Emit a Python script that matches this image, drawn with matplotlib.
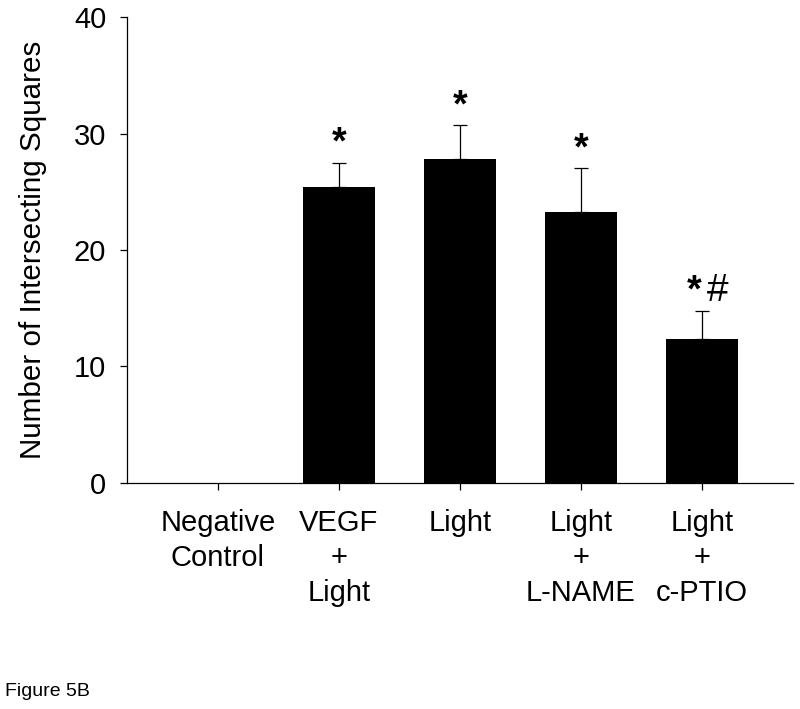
import matplotlib
matplotlib.use("Agg")
import matplotlib.pyplot as plt
import numpy as np

# values
groups = ["Negative\nControl", "VEGF\n+\nLight", "Light", "Light\n+\nL-NAME", "Light\n+\nc-PTIO"]
means = [0.0, 25.4, 27.8, 23.3, 12.4]
sems = [0.0, 2.1, 2.9, 3.7, 2.4]
marks = ["", "*", "*", "*", "*#"]

plt.rcParams['font.family'] = ['Liberation Sans', 'DejaVu Sans']

fig = plt.figure(figsize=(8, 7.09), dpi=100)
ax = fig.add_axes([0.159, 0.3188, 0.832, 0.6572])

x = np.arange(len(groups))
ax.bar(x, means, width=0.6, color='black')

# only the upper half of the error bars shows, skip the empty control
has_err = np.array(sems) > 0
ax.errorbar(x[has_err], np.array(means)[has_err],
            yerr=[np.zeros(has_err.sum()), np.array(sems)[has_err]],
            fmt='none', ecolor='black', elinewidth=0.9, capsize=4.7, capthick=0.9)

# significance marks above the error bars
for xi, m, s, lab in zip(x, means, sems, marks):
    if not lab:
        continue
    top = m + s
    if lab == "*":
        ax.annotate("*", (xi, top), xytext=(0, 6.5), textcoords='offset points',
                    ha='center', va='baseline', fontsize=27, fontweight='bold')
    else:
        ax.annotate("*", (xi, top), xytext=(-5.4, 6.5), textcoords='offset points',
                    ha='center', va='baseline', fontsize=27, fontweight='bold')
        ax.annotate("#", (xi, top), xytext=(11.5, 7), textcoords='offset points',
                    ha='center', va='baseline', fontsize=28)

ax.set_xlim(-0.75, 4.75)
ax.set_ylim(0, 40)
ax.set_yticks([0, 10, 20, 30, 40])
ax.set_xticks(x)
ax.set_xticklabels(groups, fontsize=21, linespacing=1.3)
ax.tick_params(axis='y', labelsize=21, length=5, width=0.9, pad=10)
ax.tick_params(axis='x', length=5, width=0.9, pad=14)
ax.set_ylabel("Number of Intersecting Squares", fontsize=21.3, labelpad=19.5)

for side in ['top', 'right']:
    ax.spines[side].set_visible(False)
for side in ['left', 'bottom']:
    ax.spines[side].set_linewidth(0.9)

fig.text(0.006, 0.025, "Figure 5B", fontsize=14, ha='left', va='center')

fig.savefig("out.png", dpi=100)
